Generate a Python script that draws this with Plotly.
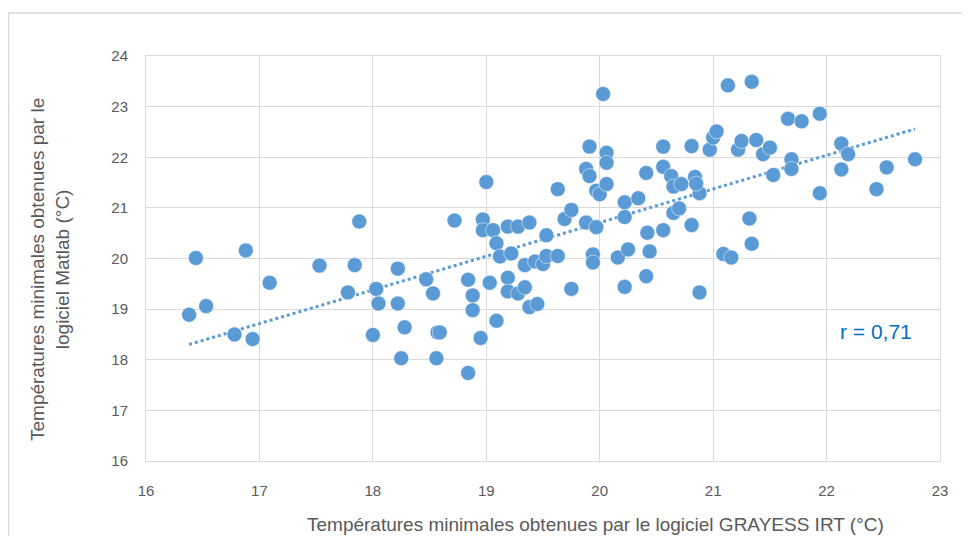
import numpy as np
import plotly.graph_objects as go

x_grayess = [16.38, 16.44, 16.53, 16.78, 16.88, 16.94, 17.09, 17.53, 17.78, 17.84,
             17.88, 18.00, 18.03, 18.05, 18.22, 18.22, 18.28, 18.25, 18.47, 18.53,
             18.57, 18.59, 18.56, 18.72, 18.84, 18.88, 18.88, 18.84, 18.95, 19.00,
             18.97, 18.97, 19.06, 19.09, 19.03, 19.12, 19.22, 19.19, 19.28, 19.38,
             19.19, 19.19, 19.28, 19.34, 19.34, 19.43, 19.50, 19.53, 19.63, 19.38,
             19.45, 19.09, 19.53, 19.63, 19.69, 19.75, 19.75, 19.88, 19.97, 19.91,
             20.06, 20.06, 19.88, 19.91, 19.97, 20.00, 20.06, 20.03, 19.94, 19.94,
             20.16, 20.25, 20.22, 20.22, 20.22, 20.34, 20.41, 20.42, 20.44, 20.41,
             20.56, 20.56, 20.63, 20.65, 20.72, 20.65, 20.70, 20.56, 20.81, 20.81,
             20.84, 20.88, 20.85, 20.88, 20.97, 21.00, 21.03, 21.13, 21.34, 21.22,
             21.25, 21.38, 21.44, 21.50, 21.53, 21.66, 21.78, 21.94, 21.69, 21.69,
             21.32, 21.34, 21.09, 21.16, 22.13, 22.19, 22.13, 21.94, 22.44, 22.53,
             22.78]
y_matlab = [18.89, 20.01, 19.06, 18.50, 20.16, 18.41, 19.52, 19.86, 19.33, 19.87,
            20.73, 18.49, 19.40, 19.11, 19.80, 19.11, 18.64, 18.03, 19.59, 19.31,
            18.54, 18.54, 18.03, 20.75, 19.58, 19.27, 18.98, 17.74, 18.43, 21.51,
            20.77, 20.56, 20.56, 20.30, 19.52, 20.04, 20.10, 20.63, 20.63, 20.71,
            19.62, 19.35, 19.31, 19.43, 19.87, 19.94, 19.89, 20.05, 20.05, 19.04,
            19.10, 18.77, 20.46, 21.37, 20.78, 20.96, 19.40, 20.71, 20.62, 22.21,
            22.09, 21.89, 21.77, 21.63, 21.34, 21.27, 21.47, 23.25, 20.08, 19.92,
            20.02, 20.18, 19.44, 21.11, 20.82, 21.19, 21.69, 20.51, 20.14, 19.65,
            22.21, 21.81, 21.63, 21.42, 21.47, 20.90, 20.99, 20.56, 22.22, 20.66,
            21.61, 21.29, 21.48, 19.33, 22.15, 22.39, 22.51, 23.42, 23.49, 22.15,
            22.32, 22.34, 22.06, 22.19, 21.65, 22.76, 22.71, 22.86, 21.96, 21.77,
            20.79, 20.29, 20.09, 20.02, 22.27, 22.06, 21.76, 21.29, 21.37, 21.80,
            21.96]

x_ticks = [16, 17, 18, 19, 20, 21, 22, 23]
y_ticks = [16, 17, 18, 19, 20, 21, 22, 23, 24]
r_label = "r = 0,71"
x_title = "Températures minimales obtenues par le logiciel GRAYESS IRT (°C)"
y_title = "Températures minimales obtenues par le<br>logiciel Matlab (°C)"

blue = "#5B9BD5"
grid = "#D9D9D9"
txt = "#595959"
font_fam = "Liberation Sans, Arial"

xa = np.array(x_grayess)
ya = np.array(y_matlab)
slope, intercept = np.polyfit(xa, ya, 1)
xt = np.array([xa.min(), xa.max()])
yt = slope * xt + intercept

fig = go.Figure()
fig.add_trace(go.Scatter(x=xt, y=yt, mode="lines",
                         line=dict(color=blue, width=3, dash="dot"),
                         hoverinfo="skip", showlegend=False))
fig.add_trace(go.Scatter(x=x_grayess, y=y_matlab, mode="markers",
                         marker=dict(color=blue, size=15, line=dict(color="white", width=0.5)),
                         showlegend=False))

# page body has an 8px offset; figure fills the window from that offset
OFF = 8
W, H = 970 - OFF, 536 - OFF
L, T = 146 - OFF, 56 - OFF
R = W - (940 - OFF)
B = H - (461 - OFF)
pw, ph = W - L - R, H - T - B


def px(xp):
    return (xp - OFF - L) / pw


def py(yp):
    return 1 - (yp - OFF - T) / ph


fig.update_layout(
    width=W, height=H,
    margin=dict(l=L, r=R, t=T, b=B, pad=0),
    paper_bgcolor="white", plot_bgcolor="white",
    font=dict(family=font_fam, color=txt, size=15),
    xaxis=dict(range=[16, 23], tickvals=x_ticks, showgrid=True, gridcolor=grid, gridwidth=1,
               zeroline=False, showline=True, linecolor=grid, linewidth=1, mirror=True,
               ticks="", ticklabelstandoff=16, tickfont=dict(size=15, color=txt)),
    yaxis=dict(range=[16, 24], tickvals=y_ticks, showgrid=True, gridcolor=grid, gridwidth=1,
               zeroline=False, showline=True, linecolor=grid, linewidth=1, mirror=True,
               ticks="", ticklabelstandoff=14, tickfont=dict(size=15, color=txt)),
    shapes=[dict(type="rect", xref="paper", yref="paper",
                 x0=px(8.5), x1=px(990), y0=py(560), y1=py(13),
                 line=dict(color=grid, width=1.5), fillcolor="rgba(0,0,0,0)", layer="below")],
    annotations=[
        dict(text=r_label, xref="x", yref="y", x=22.44, y=18.55, showarrow=False,
             font=dict(size=21, color="#0070C0", family=font_fam)),
        dict(text=x_title, xref="paper", yref="paper", x=px(595), y=py(524),
             xanchor="center", yanchor="middle", showarrow=False,
             font=dict(size=19, color=txt, family=font_fam)),
        dict(text=y_title, xref="paper", yref="paper", x=px(50), y=py(270),
             xanchor="center", yanchor="middle", textangle=-90, showarrow=False,
             font=dict(size=19, color=txt, family=font_fam)),
    ],
)

fig.write_html("out.html")
